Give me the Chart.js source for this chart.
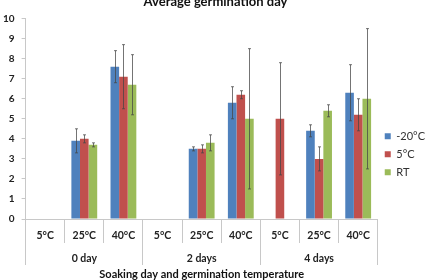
<!DOCTYPE html>
<html>
<head>
<meta charset="utf-8">
<script src="https://cdn.jsdelivr.net/npm/chart.js@4"></script>
<style>
  body { margin: 0; background: #fff; }
  #wrap { width: 425px; height: 280px; }
</style>
</head>
<body>
<div id="wrap"><canvas id="myChart"></canvas></div>
<script>
var temps = ['5°C', '25°C', '40°C', '5°C', '25°C', '40°C', '5°C', '25°C', '40°C'];
var soakDays = ['0 day', '2 days', '4 days'];

var minus20 = [null, 3.9, 7.6, null, 3.5, 5.8, null, 4.4, 6.3];
var five = [null, 4.0, 7.1, null, 3.5, 6.2, 5.0, 3.0, 5.2];
var rt = [null, 3.7, 6.7, null, 3.8, 5.0, null, 5.4, 6.0];

var minus20Err = [null, 0.6, 0.8, null, 0.1, 0.8, null, 0.3, 1.4];
var fiveErr = [null, 0.2, 1.6, null, 0.2, 0.2, 2.8, 0.6, 0.8];
var rtErr = [null, 0.1, 1.5, null, 0.4, 3.5, null, 0.3, 3.5];

var yTicks = [0, 10, 1]; // min, max, step

// error bars drawn from the err arrays through the y scale
var errorBars = {
    id: 'errorBars',
    afterDatasetsDraw: function(chart) {
        var c = chart.ctx;
        var y = chart.scales.y;
        c.save();
        c.strokeStyle = 'rgba(70,70,70,0.75)';
        c.lineWidth = 1;
        chart.data.datasets.forEach(function(ds, i) {
            var meta = chart.getDatasetMeta(i);
            meta.data.forEach(function(bar, j) {
                var v = ds.data[j], e = ds.err[j];
                if (v == null || e == null) return;
                var x = Math.round(bar.x) + 0.5;
                var top = y.getPixelForValue(v + e);
                var bot = y.getPixelForValue(v - e);
                c.beginPath();
                c.moveTo(x, top); c.lineTo(x, bot);
                c.moveTo(x - 1.5, top); c.lineTo(x + 1.5, top);
                c.moveTo(x - 1.5, bot); c.lineTo(x + 1.5, bot);
                c.stroke();
            });
        });
        c.restore();
    }
};

var ctx = document.getElementById('myChart');
var font = 'Lato';

var myChart = new Chart(ctx, {
    type: 'bar',
    data: {
        labels: temps,
        datasets: [
            { label: '-20°C', data: minus20, err: minus20Err, backgroundColor: '#4F81BD' },
            { label: '5°C', data: five, err: fiveErr, backgroundColor: '#C0504D' },
            { label: 'RT', data: rt, err: rtErr, backgroundColor: '#9BBB59' }
        ]
    },
    options: {
        responsive: true,
        maintainAspectRatio: false,
        animation: false,
        categoryPercentage: 0.66,
        barPercentage: 1.0,
        layout: { padding: { left: -4, right: -10, top: 0, bottom: 0 } },
        plugins: {
            title: {
                display: true,
                text: 'Average germination day',
                color: '#111',
                font: { family: font, size: 13, weight: 'bold' },
                padding: { top: -6, bottom: 9 }
            },
            legend: {
                position: 'right',
                title: { display: true, text: ' ', padding: { top: 14, bottom: 0 } },
                labels: {
                    boxWidth: 6,
                    boxHeight: 6,
                    padding: 7,
                    color: '#333',
                    font: { family: font, size: 11 }
                }
            },
            tooltip: { enabled: false }
        },
        scales: {
            // temperature row: mirrored labels pulled down between the tick lines,
            // blank title only gives the row its height
            x: {
                type: 'category',
                weight: 0,
                offset: true,
                grid: { offset: true, drawOnChartArea: false, tickLength: 24, color: '#c8c8c8' },
                border: { color: '#c8c8c8' },
                ticks: {
                    mirror: true,
                    padding: -23.3,
                    color: '#222',
                    maxRotation: 0,
                    autoSkip: false,
                    font: { family: font, size: 10.5, weight: 'bold' }
                },
                title: {
                    display: true,
                    text: ' ',
                    font: { size: 10 },
                    padding: { top: 32.6, bottom: 0 }
                }
            },
            // soaking day row
            x2: {
                type: 'category',
                position: 'bottom',
                weight: 1,
                labels: soakDays,
                offset: true,
                grid: { offset: true, drawOnChartArea: false, tickLength: 24, color: '#c8c8c8' },
                border: { display: false },
                ticks: {
                    mirror: true,
                    padding: -24.3,
                    color: '#222',
                    maxRotation: 0,
                    font: { family: font, size: 10.5, weight: 'bold' }
                },
                title: {
                    display: true,
                    text: 'Soaking day and germination temperature',
                    color: '#111',
                    font: { family: font, size: 11, weight: 'bold' },
                    padding: { top: 51.9, bottom: -1.5 }
                }
            },
            y: {
                min: yTicks[0],
                max: yTicks[1],
                grid: { drawOnChartArea: false, tickLength: 4, color: '#c8c8c8' },
                border: { color: '#c8c8c8' },
                ticks: {
                    stepSize: yTicks[2],
                    padding: 7,
                    color: '#222',
                    font: { family: font, size: 10, weight: 'bold' }
                }
            }
        }
    },
    plugins: [errorBars]
});
</script>
</body>
</html>
